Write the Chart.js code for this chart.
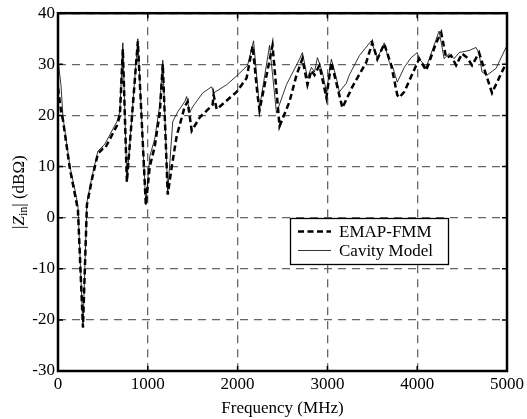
<!DOCTYPE html>
<html>
<head>
<meta charset="utf-8">
<script src="https://cdn.jsdelivr.net/npm/chart.js@4.4.0/dist/chart.umd.min.js"></script>
<style>
  html, body { margin: 0; padding: 0; background: #fff; }
  #wrap { width: 527px; height: 419px; }
</style>
</head>
<body>
<div id="wrap"><canvas id="zinChart" width="527" height="419"></canvas></div>
<script>
// values (frequency in MHz, |Zin| in dBOhm)
var emapFreq = [0, 33, 56, 133, 189, 222, 278, 322, 378, 444, 500, 522, 656, 689, 722, 767, 889, 978, 1022, 1078, 1133, 1167, 1222, 1267, 1322, 1411, 1444, 1489, 1578, 1722, 1733, 1767, 1989, 2100, 2167, 2222, 2244, 2389, 2467, 2578, 2656, 2722, 2778, 2822, 2856, 2911, 2989, 3044, 3078, 3167, 3278, 3433, 3500, 3556, 3633, 3711, 3778, 3800, 3856, 3989, 4022, 4100, 4211, 4267, 4322, 4378, 4433, 4500, 4556, 4611, 4689, 4744, 4833, 4911, 4989];
var emapVal = [25.4, 21, 19, 9.5, 4.5, 1.5, -21.5, 2.5, 7.5, 12.5, 13.5, 13.5, 18, 20, 33, 7, 34.5, 2.5, 10, 14, 20.5, 30, 4.5, 10, 16, 21.7, 22.7, 17, 19.6, 22.1, 24, 21.2, 24.6, 27.3, 33.6, 24, 21, 33.7, 17.9, 22.7, 27.9, 31.1, 26, 28.8, 27.9, 29.8, 23.5, 30.4, 27.9, 21.5, 25.6, 30.4, 34.2, 31, 34, 29.8, 24, 23.5, 24.6, 29.8, 31.1, 28.8, 34.2, 36.2, 31.3, 31.7, 29.8, 32.1, 31.3, 29.8, 32.3, 29.2, 24.4, 27.3, 30.2];

var cavFreq = [0, 33, 56, 133, 189, 222, 278, 322, 378, 444, 522, 656, 689, 722, 767, 889, 978, 1022, 1078, 1133, 1167, 1222, 1278, 1333, 1411, 1433, 1467, 1500, 1611, 1711, 1733, 1878, 2000, 2111, 2178, 2244, 2356, 2433, 2544, 2689, 2722, 2778, 2822, 2856, 2889, 2944, 2989, 3044, 3100, 3133, 3211, 3244, 3356, 3489, 3556, 3633, 3689, 3722, 3778, 3856, 3933, 4000, 4022, 4100, 4244, 4300, 4356, 4411, 4467, 4578, 4656, 4689, 4722, 4778, 4878, 5000];
var cavVal = [30.8, 26, 19.6, 10, 5.4, 2.3, -21.5, 3, 8, 13, 14.4, 18.8, 20.7, 34.2, 7, 35, 2.5, 12, 15.5, 22, 30.8, 5, 18.8, 20.7, 22.7, 23.7, 20.6, 21.7, 24.4, 25.6, 24.4, 26, 27.9, 29.8, 34.6, 21.5, 33.7, 20.5, 26, 31, 32.3, 27.3, 29.4, 28.5, 31.3, 28.5, 24.6, 31, 27.3, 24.6, 26.3, 27.9, 31.7, 34.6, 31.1, 34.2, 30.4, 29.8, 26.5, 29.4, 31.3, 32.3, 31.1, 29.4, 36.5, 31.1, 32.1, 31.1, 32.3, 32.7, 33.3, 32.1, 28.5, 27.9, 29.2, 33.7];

var xTicks = [0, 1000, 2000, 3000, 4000, 5000];
var yTicks = [-30, -20, -10, 0, 10, 20, 30, 40];
var seriesNames = ["EMAP-FMM", "Cavity Model"];

var serif = "'Liberation Serif', 'Times New Roman', serif";

function pairs(xs, ys) {
  return xs.map(function (x, i) { return { x: x, y: ys[i] }; });
}

// frame, inward ticks, y title with subscript, legend box
var decor = {
  id: 'decor',
  afterDatasetsDraw: function (chart) {
    var ctx = chart.ctx;
    var a = chart.chartArea;
    var xs = chart.scales.x, ys = chart.scales.y;
    ctx.save();
    ctx.strokeStyle = '#000';
    ctx.lineWidth = 1.5;
    ctx.setLineDash([]);
    xTicks.forEach(function (t) {
      var px = xs.getPixelForValue(t);
      ctx.beginPath();
      ctx.moveTo(px, a.bottom); ctx.lineTo(px, a.bottom - 5);
      ctx.moveTo(px, a.top); ctx.lineTo(px, a.top + 5);
      ctx.stroke();
    });
    yTicks.forEach(function (t) {
      var py = ys.getPixelForValue(t);
      ctx.beginPath();
      ctx.moveTo(a.left, py); ctx.lineTo(a.left + 5, py);
      ctx.moveTo(a.right, py); ctx.lineTo(a.right - 5, py);
      ctx.stroke();
    });
    ctx.lineWidth = 2.5;
    ctx.strokeRect(a.left, a.top, a.right - a.left, a.bottom - a.top);

    // legend
    var lx = 290.5, ly = 218.5, lw = 158, lh = 46;
    ctx.fillStyle = '#fff';
    ctx.fillRect(lx, ly, lw, lh);
    ctx.lineWidth = 1.3;
    ctx.strokeRect(lx, ly, lw, lh);
    var rows = [ly + 13, ly + 32];
    ctx.lineWidth = 2.5;
    ctx.setLineDash([6, 3.5]);
    ctx.beginPath(); ctx.moveTo(298, rows[0]); ctx.lineTo(331, rows[0]); ctx.stroke();
    ctx.setLineDash([]);
    ctx.lineWidth = 0.8;
    ctx.beginPath(); ctx.moveTo(298, rows[1]); ctx.lineTo(331, rows[1]); ctx.stroke();
    ctx.fillStyle = '#000';
    ctx.font = '17px ' + serif;
    ctx.textBaseline = 'middle';
    ctx.textAlign = 'left';
    ctx.fillText(seriesNames[0], 339, rows[0] + 1);
    ctx.fillText(seriesNames[1], 339, rows[1] + 1);

    // y axis title: |Z_in| (dBΩ)
    ctx.translate(20, (a.top + a.bottom) / 2);
    ctx.rotate(-Math.PI / 2);
    var parts = [
      { t: '|', f: '17px ' + serif, dy: 0 },
      { t: 'Z', f: 'italic 17px ' + serif, dy: 0 },
      { t: 'in', f: '12px ' + serif, dy: 4 },
      { t: '| (dB\u03A9)', f: '17px ' + serif, dy: 0 }
    ];
    var total = 0;
    parts.forEach(function (p) { ctx.font = p.f; p.w = ctx.measureText(p.t).width; total += p.w; });
    var cx = -total / 2;
    parts.forEach(function (p) {
      ctx.font = p.f;
      ctx.fillText(p.t, cx, p.dy);
      cx += p.w;
    });
    ctx.restore();
  }
};

var ctx = document.getElementById('zinChart').getContext('2d');
var zinChart = new Chart(ctx, {
  type: 'line',
  data: {
    datasets: [
      {
        label: seriesNames[0],
        data: pairs(emapFreq, emapVal),
        borderColor: '#000',
        borderWidth: 2.5,
        borderDash: [6, 3.5],
        pointRadius: 0,
        tension: 0,
        fill: false
      },
      {
        label: seriesNames[1],
        data: pairs(cavFreq, cavVal),
        borderColor: '#000',
        borderWidth: 0.8,
        pointRadius: 0,
        tension: 0,
        fill: false
      }
    ]
  },
  options: {
    responsive: false,
    animation: false,
    layout: { padding: { top: 9, right: 19, left: 0, bottom: 0 } },
    plugins: {
      legend: { display: false },
      tooltip: { enabled: false }
    },
    scales: {
      x: {
        type: 'linear',
        min: 0, max: 5000,
        afterBuildTicks: function (s) { s.ticks = xTicks.map(function (v) { return { value: v }; }); },
        afterFit: function (s) { s.height = 48; },
        grid: { color: '#666', lineWidth: 1.3, drawTicks: false },
        border: { display: false, dash: [8, 6] },
        ticks: {
          color: '#000', font: { family: serif, size: 17 }, padding: 3, maxRotation: 0,
          callback: function (v) { return String(v); }
        },
        title: { display: true, text: 'Frequency (MHz)', color: '#000', font: { family: serif, size: 17 }, padding: { top: 0, bottom: 0 } }
      },
      y: {
        min: -30, max: 40,
        afterBuildTicks: function (s) { s.ticks = yTicks.map(function (v) { return { value: v }; }); },
        afterFit: function (s) { s.width = 58; },
        grid: { color: '#666', lineWidth: 1.3, drawTicks: false },
        border: { display: false, dash: [8, 6] },
        ticks: {
          color: '#000', font: { family: serif, size: 17 }, padding: 3,
          callback: function (v) { return String(v); }
        }
      }
    }
  },
  plugins: [decor]
});
</script>
</body>
</html>
